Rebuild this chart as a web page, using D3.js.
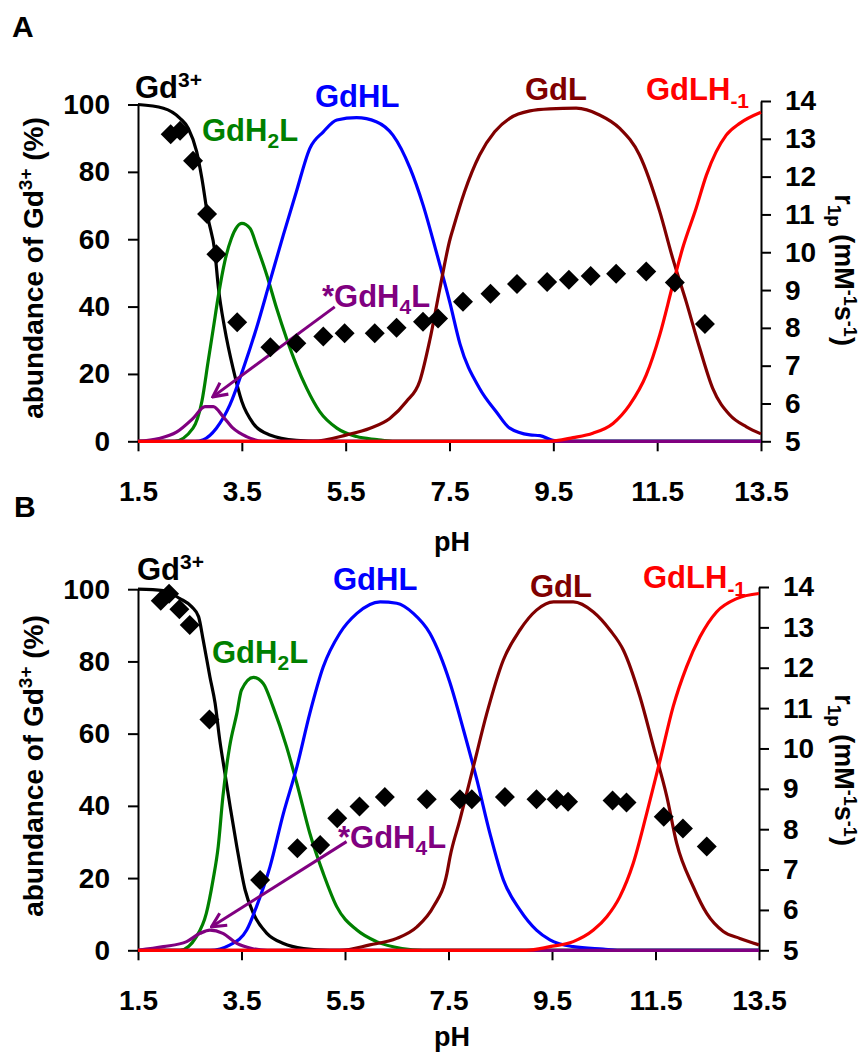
<!DOCTYPE html>
<html>
<head>
<meta charset="utf-8">
<script src="https://cdn.jsdelivr.net/npm/d3@7"></script>
<style>
body { margin: 0; background: #fff; }
text { font-family: "Liberation Sans", Arial, sans-serif; font-weight: bold; }
</style>
</head>
<body>
<div id="chart"></div>
<script>
// ---- data (pH, % of Gd) ----
const phTicks = [1.5, 3.5, 5.5, 7.5, 9.5, 11.5, 13.5];
const abundTicks = [0, 20, 40, 60, 80, 100];
const r1Ticks = [5, 6, 7, 8, 9, 10, 11, 12, 13, 14];

// panel A species
const gdA = [[1.5,100],[1.99,98.9],[2.31,95.9],[2.47,92.9],[2.63,86],[2.73,78.1],[2.85,66.2],[2.98,56.3],[3.05,45.4],[3.17,33.5],[3.33,21.7],[3.5,11.8],[3.72,5.3],[4.04,1.9],[4.55,0.3],[5,0],[13.5,0]];
const gdH2LA = [[1.5,0],[2.2,0],[2.56,3.9],[2.73,11.8],[2.85,23.6],[2.95,33.5],[3.05,43.4],[3.17,53.3],[3.3,60.3],[3.5,64.7],[3.66,63.2],[3.78,58.3],[3.98,49.4],[4.17,39.5],[4.36,30.6],[4.55,22.7],[4.75,15.7],[5.0,8.8],[5.33,3.9],[5.71,1.4],[6.1,0.5],[6.4,0],[13.5,0]];
const gdHLA = [[1.5,0],[2.6,0],[2.76,0.5],[3.01,3.9],[3.27,10.8],[3.53,21.7],[3.78,33.5],[4.04,47.4],[4.3,61.3],[4.55,74.1],[4.81,87],[5.07,91.9],[5.33,95.4],[5.71,96.1],[6.09,94.9],[6.41,90.9],[6.74,81.1],[6.99,70.2],[7.25,56],[7.51,41],[7.7,29],[8.08,15.7],[8.4,8.8],[8.66,3.9],[9.05,1.9],[9.24,1.7],[9.49,0.3],[9.7,0],[13.5,0]];
const gdLA = [[1.5,0],[4.87,0],[5.52,1.9],[5.97,3.9],[6.35,6.8],[6.67,11.8],[6.93,18],[7.12,30],[7.31,45],[7.51,60],[7.57,63.2],[7.79,74.1],[8.08,85],[8.37,91.9],[8.66,95.9],[9.05,98.1],[9.43,98.7],[9.94,98.9],[10.39,96.9],[10.78,92.9],[11.16,85],[11.55,68.2],[11.8,54.3],[12.06,41.4],[12.32,27.6],[12.57,15.7],[12.9,7.8],[13.22,4.3],[13.5,2.2]];
const gdLH1A = [[1.5,0],[9.4,0],[9.88,1.1],[10.26,2.4],[10.65,5.3],[10.97,10.8],[11.29,19.7],[11.55,31.6],[11.8,46.4],[11.99,57.3],[12.25,69.2],[12.45,79.1],[12.83,90.9],[13.09,94.4],[13.5,97.7]];
const gdH4LA = [[1.5,0],[1.9,0.8],[2.24,2.7],[2.56,6.8],[2.79,10.3],[2.95,10.3],[3.14,7.3],[3.33,3.9],[3.59,1.4],[3.9,0],[13.5,0]];
// panel A relaxivity (pH, r1p)
const r1A = [[2.13,13.12],[2.31,13.21],[2.56,12.42],[2.83,11.01],[3.01,9.95],[3.41,8.15],[4.05,7.49],[4.55,7.59],[5.07,7.77],[5.48,7.86],[6.06,7.86],[6.48,8.0],[6.99,8.16],[7.28,8.25],[7.76,8.69],[8.29,8.9],[8.8,9.16],[9.38,9.21],[9.8,9.27],[10.22,9.37],[10.71,9.43],[11.29,9.49],[11.84,9.2],[12.42,8.1]];

// panel B species
const gdB = [[1.5,100],[1.99,99.6],[2.31,97.4],[2.54,95.1],[2.67,92.4],[2.76,85.9],[2.89,75.7],[2.99,68.4],[3.08,58.2],[3.18,49],[3.28,39.8],[3.41,28.7],[3.57,16.7],[3.73,10.2],[3.99,4.7],[4.31,1.9],[4.7,0.5],[5.2,0],[13.5,0]];
const gdH2LB = [[1.5,0],[2.31,0],[2.63,3.8],[2.82,10.2],[2.95,19.5],[3.05,28.7],[3.14,42.5],[3.27,56.4],[3.41,65.6],[3.5,72.1],[3.73,75.6],[3.92,73.9],[4.11,67.4],[4.37,56.4],[4.57,46.2],[4.82,32.4],[5.08,21.3],[5.34,12.1],[5.73,5.6],[6.11,2.4],[6.6,0.5],[7.0,0],[13.5,0]];
const gdHLB = [[1.5,0],[2.89,0],[3.28,1.5],[3.6,5.6],[3.79,12.1],[4.05,23.1],[4.31,37.9],[4.57,50.8],[4.82,65.6],[5.08,78.5],[5.4,87.8],[5.73,93.3],[6.18,96.5],[6.5,96.1],[6.82,93.3],[7.14,87.8],[7.33,82],[7.53,74],[7.79,61],[8.05,47.1],[8.3,32.4],[8.56,19.5],[8.88,11.2],[9.2,5.6],[9.46,2.9],[9.91,1.0],[10.49,0.3],[10.8,0],[13.5,0]];
const gdLB = [[1.5,0],[5.4,0],[5.98,1.5],[6.5,3.3],[6.89,6.5],[7.21,12.1],[7.47,21.3],[7.53,25.9],[7.72,36.1],[7.98,50.8],[8.24,65.6],[8.56,80.4],[8.88,88.7],[9.2,94.2],[9.53,96.5],[9.91,96.5],[10.3,93.7],[10.62,88.7],[10.88,83.1],[11.2,70.2],[11.46,56.4],[11.72,42.5],[11.91,29.6],[12.23,17.6],[12.49,10.2],[12.81,5.2],[13.13,3.3],[13.5,1.5]];
const gdLH1B = [[1.5,0],[9.0,0],[9.46,1],[9.91,2.4],[10.3,5.6],[10.56,9.3],[10.81,14.8],[11.07,24.1],[11.33,37.9],[11.59,52.7],[11.84,67.4],[12.1,78.5],[12.36,86.8],[12.68,93.7],[13.07,97.4],[13.5,98.8]];
const gdH4LB = [[1.5,0],[1.99,1],[2.44,2.4],[2.7,4.7],[2.89,5.6],[3.14,4.7],[3.41,1.9],[3.7,0.5],[4.0,0],[13.5,0]];
const r1B = [[1.94,13.66],[2.1,13.83],[2.3,13.45],[2.5,13.06],[2.88,10.72],[3.86,6.74],[4.58,7.53],[5.02,7.61],[5.35,8.27],[5.78,8.56],[6.27,8.8],[7.08,8.74],[7.72,8.74],[7.95,8.74],[8.59,8.8],[9.2,8.74],[9.59,8.74],[9.81,8.68],[10.67,8.71],[10.94,8.66],[11.66,8.31],[12.03,8.02],[12.49,7.57]];

const colors = { gd: "#000000", h2l: "#008000", hl: "#0000ff", l: "#800000", h4l: "#800080", lh: "#ff0000" };

const svg = d3.select("#chart").append("svg")
    .attr("width", 866)
    .attr("height", 1055);

svg.append("defs").append("marker")
    .attr("id", "arrow")
    .attr("viewBox", "0 0 12 12")
    .attr("refX", 11).attr("refY", 6)
    .attr("markerWidth", 17).attr("markerHeight", 17)
    .attr("markerUnits", "userSpaceOnUse")
    .attr("orient", "auto")
    .append("path")
    .attr("d", "M1,1 L11,6 L1,11")
    .attr("fill", "none")
    .attr("stroke", colors.h4l)
    .attr("stroke-width", 2.2);

// text with sub/superscripts: s = baseline shift in px (negative = up)
function rich(sel, parts) {
    let cur = 0;
    parts.forEach(p => {
        const s = p.s || 0;
        const ts = sel.append("tspan").text(p.t).attr("dy", s - cur);
        if (p.small) ts.style("font-size", p.small + "px");
        cur = s;
    });
}

function drawPanel(p) {
    const g = svg.append("g");
    const x = d3.scaleLinear().domain([1.5, 13.5]).range(p.xRange);
    const y = d3.scaleLinear().domain([0, 100]).range(p.yRange);
    const r = d3.scaleLinear().domain([5, 14]).range(p.rRange);

    const xAxis = g.append("g")
        .attr("transform", `translate(0,${p.yRange[0]})`)
        .call(d3.axisBottom(x).tickValues(phTicks).tickFormat(d3.format(".1f"))
            .tickSizeInner(10).tickSizeOuter(0).tickPadding(30));
    const yAxis = g.append("g")
        .attr("transform", `translate(${p.xRange[0]},0)`)
        .call(d3.axisLeft(y).tickValues(abundTicks).tickSizeInner(10).tickSizeOuter(0).tickPadding(18));
    const rAxis = g.append("g")
        .attr("transform", `translate(${p.xRange[1]},0)`)
        .call(d3.axisRight(r).tickValues(r1Ticks).tickSizeInner(10).tickSizeOuter(0).tickPadding(14));

    [xAxis, yAxis, rAxis].forEach(a => {
        a.selectAll("path, line").attr("stroke", "#000").attr("stroke-width", 2);
        a.selectAll("text").style("font-size", "28px").attr("fill", "#000");
    });

    const line = d3.line()
        .x(d => x(d[0]))
        .y(d => y(d[1]))
        .curve(d3.curveMonotoneX);

    p.series.forEach(s => {
        g.append("path")
            .attr("d", line(s.data))
            .attr("fill", "none")
            .attr("stroke", s.color)
            .attr("stroke-width", 3.2)
            .attr("stroke-linejoin", "round");
    });

    // arrow to the GdH4L hump
    g.append("line")
        .attr("x1", x(p.arrow[0][0])).attr("y1", y(p.arrow[0][1]))
        .attr("x2", x(p.arrow[1][0])).attr("y2", y(p.arrow[1][1]))
        .attr("stroke", colors.h4l)
        .attr("stroke-width", 3)
        .attr("marker-end", "url(#arrow)");

    // relaxivity diamonds
    g.selectAll(".pt")
        .data(p.r1)
        .enter()
        .append("path")
        .attr("d", d3.symbol().type(d3.symbolSquare).size(200))
        .attr("transform", d => `translate(${x(d[0])},${r(d[1])}) rotate(45)`)
        .attr("fill", "#000");

    // species labels
    p.labels.forEach(l => {
        const t = g.append("text")
            .attr("x", l.x).attr("y", l.y)
            .attr("fill", l.color)
            .style("font-size", "31px");
        rich(t, l.parts);
    });

    // axis titles
    g.append("text")
        .attr("x", 452).attr("y", p.pHy)
        .attr("text-anchor", "middle")
        .style("font-size", "27px")
        .text("pH");

    const lt = g.append("text")
        .attr("transform", `translate(43,${p.leftMid}) rotate(-90)`)
        .attr("text-anchor", "middle")
        .style("font-size", "28px");
    rich(lt, [{ t: "abundance of Gd" }, { t: "3+", s: -11, small: 19 }, { t: " (%)" }]);

    // rotated 90deg: superscripts shift toward the right edge, keep them inside
    const rt = g.append("text")
        .attr("transform", `translate(835,${p.rightMid}) rotate(90)`)
        .attr("text-anchor", "middle")
        .style("font-size", "27px");
    rich(rt, [{ t: "r" }, { t: "1p", s: 7, small: 19 }, { t: " (mM" }, { t: "-1", s: -9, small: 18 },
        { t: "s" }, { t: "-1", s: -9, small: 18 }, { t: ")" }]);

    g.append("text")
        .attr("x", p.letter[0]).attr("y", p.letter[1])
        .style("font-size", "30px")
        .text(p.name);
}

function labelsFor(pos) {
    return [
        { x: pos[0][0], y: pos[0][1], color: colors.gd, parts: [{ t: "Gd" }, { t: "3+", s: -11, small: 21 }] },
        { x: pos[1][0], y: pos[1][1], color: colors.h2l, parts: [{ t: "GdH" }, { t: "2", s: 7, small: 21 }, { t: "L" }] },
        { x: pos[2][0], y: pos[2][1], color: colors.hl, parts: [{ t: "GdHL" }] },
        { x: pos[3][0], y: pos[3][1], color: colors.l, parts: [{ t: "GdL" }] },
        { x: pos[4][0], y: pos[4][1], color: colors.lh, parts: [{ t: "GdLH" }, { t: "-1", s: 8, small: 21 }] },
        { x: pos[5][0], y: pos[5][1], color: colors.h4l, parts: [{ t: "*GdH" }, { t: "4", s: 7, small: 21 }, { t: "L" }] }
    ];
}

drawPanel({
    name: "A", letter: [12, 37],
    xRange: [138, 761], yRange: [441.3, 104.5], rRange: [441.3, 101],
    series: [
        { data: gdA, color: colors.gd }, { data: gdH2LA, color: colors.h2l },
        { data: gdHLA, color: colors.hl }, { data: gdLA, color: colors.l },
        { data: gdH4LA, color: colors.h4l }, { data: gdLH1A, color: colors.lh }
    ],
    r1: r1A,
    arrow: [[5.29, 39.9], [2.94, 13.2]],
    labels: labelsFor([[135, 98], [202, 141], [315, 107], [525, 100], [646, 100], [322, 307]]),
    pHy: 551, leftMid: 268, rightMid: 270
});

drawPanel({
    name: "B", letter: [14, 517],
    xRange: [138, 759], yRange: [950.3, 589.2], rRange: [950.3, 587],
    series: [
        { data: gdB, color: colors.gd }, { data: gdH2LB, color: colors.h2l },
        { data: gdHLB, color: colors.hl }, { data: gdLB, color: colors.l },
        { data: gdH4LB, color: colors.h4l }, { data: gdLH1B, color: colors.lh }
    ],
    r1: r1B,
    arrow: [[5.53, 30.1], [2.92, 6.5]],
    labels: labelsFor([[137, 580], [212, 663], [333, 590], [530, 597], [643, 588], [338, 848]]),
    pHy: 1046, leftMid: 766, rightMid: 770
});
</script>
</body>
</html>
